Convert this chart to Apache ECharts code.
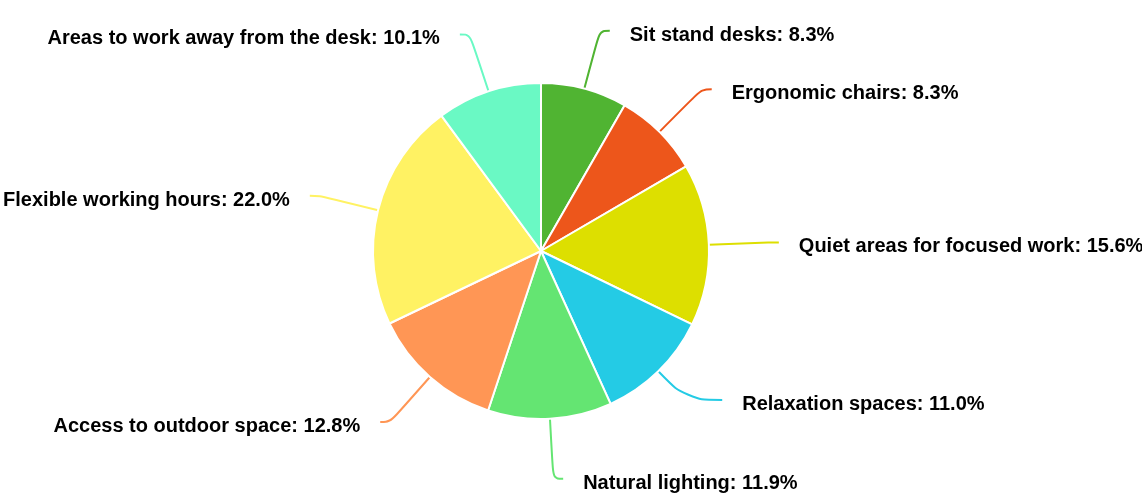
<!DOCTYPE html>
<html>
<head>
<meta charset="utf-8">
<script src="https://cdn.jsdelivr.net/npm/echarts@6/dist/echarts.min.js"></script>
<style>html,body{margin:0;padding:0;background:#fff;}#c{width:1142px;height:500px;}</style>
</head>
<body>
<div id="c"></div>
<script>
const categories = ["Sit stand desks", "Ergonomic chairs", "Quiet areas for focused work", "Relaxation spaces", "Natural lighting", "Access to outdoor space", "Flexible working hours", "Areas to work away from the desk"];
const values = [8.3, 8.3, 15.6, 11.0, 11.9, 12.8, 22.0, 10.1];
const colors = ["#50B432", "#ED561B", "#DDDF00", "#24CBE5", "#64E572", "#FF9655", "#FFF263", "#6AF9C4"];

const chart = echarts.init(document.getElementById('c'), null, {renderer: 'canvas'});
const textStyle = {
  color: '#000',
  fontFamily: 'Liberation Sans, Arial, sans-serif',
  fontWeight: 'bold',
  fontSize: 20
};
chart.setOption({
  animation: false,
  color: colors,
  series: [{
    type: 'pie',
    center: [541, 251],
    radius: 168,
    startAngle: 90,
    clockwise: true,
    avoidLabelOverlap: false,
    itemStyle: {borderColor: '#fff', borderWidth: 2},
    label: Object.assign({
      show: true,
      formatter: p => '{t|' + p.name + ': ' + p.value.toFixed(1) + '%}',
      rich: {t: Object.assign({padding: [9, 0, 0, 0]}, textStyle)},
      distanceToLabelLine: 20
    }, textStyle),
    labelLine: {show: true, length: 60, length2: 10, smooth: 0.4, lineStyle: {width: 2}},
    data: categories.map((c, i) => {
      const d = {name: c, value: values[i]};
      if (c === "Relaxation spaces") d.labelLine = {length: 40, length2: 36};
      return d;
    })
  }]
});
</script>
</body>
</html>
